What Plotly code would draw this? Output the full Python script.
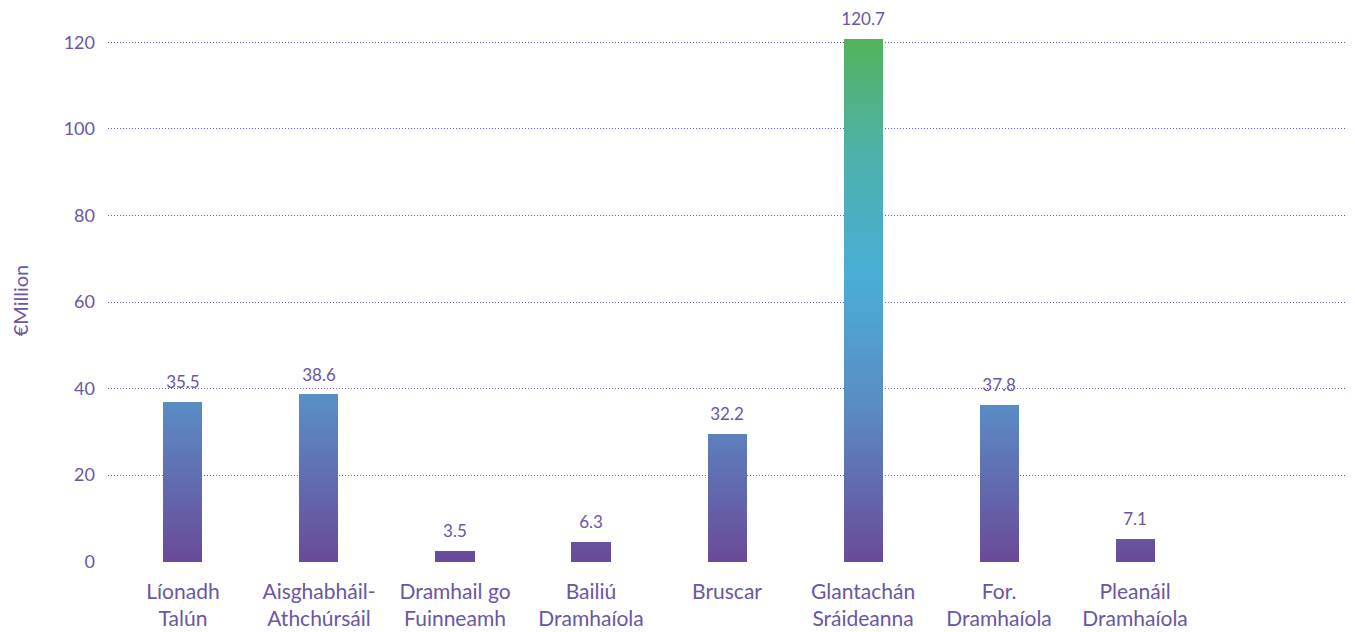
import numpy as np
import plotly.graph_objects as go
from plotly.colors import sample_colorscale

categories = ["Líonadh<br>Talún", "Aisghabháil-<br>Athchúrsáil", "Dramhail go<br>Fuinneamh",
              "Bailiú<br>Dramhaíola", "Bruscar", "Glantachán<br>Sráideanna",
              "For.<br>Dramhaíola", "Pleanáil<br>Dramhaíola"]
bar_heights = [36.8, 38.6, 2.4, 4.5, 29.4, 120.7, 36.1, 5.2]
value_labels = ["35.5", "38.6", "3.5", "6.3", "32.2", "120.7", "37.8", "7.1"]
y_ticks = [0, 20, 40, 60, 80, 100, 120]

TEXT = "#6a55a6"
FONT = "Lato, 'Open Sans', sans-serif"
gradient = [[0.0, "#6a4a9a"], [0.3, "#5a8cc4"], [0.55, "#4aaed6"],
            [0.78, "#4db1ab"], [1.0, "#53b35c"]]
top = 120.8

fig = go.Figure()
vals = np.array(bar_heights)
step = 0.5
levels = np.arange(0, np.ceil(vals.max() / step) * step, step)
for k in levels:
    seg = np.clip(vals - k, 0, step)
    col = sample_colorscale(gradient, [min((k + step / 2) / top, 1.0)])[0]
    fig.add_trace(go.Bar(x=categories, y=seg, marker=dict(color=col, line=dict(width=0)),
                         showlegend=False, hoverinfo="skip"))

fig.add_trace(go.Scatter(x=categories, y=bar_heights, mode="markers+text", text=value_labels,
                         textposition="top center",
                         marker=dict(size=14, opacity=0),
                         textfont=dict(family=FONT, size=17, color=TEXT),
                         showlegend=False, hoverinfo="skip", cliponaxis=False))

fig.update_layout(
    width=1347, height=624, barmode="stack", bargap=0.713,
    paper_bgcolor="white", plot_bgcolor="white",
    margin=dict(l=100, r=5, t=31, b=70),
    font=dict(family=FONT, color=TEXT),
)
fig.update_xaxes(range=[-0.551, 8.58], showgrid=False, showline=False, ticks="",
                 automargin=False,
                 tickfont=dict(family=FONT, size=21, color=TEXT), ticklabelstandoff=15)
fig.update_yaxes(range=[-0.1, top], tickvals=y_ticks, showgrid=True, gridcolor=TEXT,
                 griddash="1px,2px", gridwidth=1, zeroline=False, showline=False, ticks="",
                 automargin=False,
                 tickfont=dict(family=FONT, size=18, color=TEXT), ticklabelstandoff=12,
                 title=dict(text="€Million", font=dict(family=FONT, size=20, color=TEXT),
                            standoff=32))
fig.write_html("out.html")
